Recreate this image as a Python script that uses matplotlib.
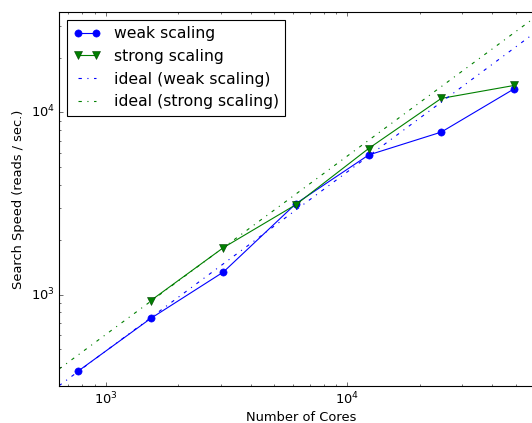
import matplotlib
matplotlib.use('Agg')
import matplotlib.pyplot as plt

# values
cores = [768, 1536, 3072, 6144, 12288, 24576, 49152]
weak_speed = [380, 740, 1330, 3160, 5840, 7800, 13450]
strong_cores = [1536, 3072, 6144, 12288, 24576, 49152]
strong_speed = [927, 1810, 3120, 6340, 11940, 14060]

# ideal scaling lines, endpoints at the axis limits
ideal_cores = [640, 65536]
ideal_weak = [316, 29850]
ideal_strong = [390, 36200]

plt.style.use('classic')
plt.rcParams['font.size'] = 11.7

fig = plt.figure(figsize=(532 / 80, 423 / 80), dpi=80, facecolor='white')
ax = fig.add_axes([59 / 532, 37 / 423, 485 / 532, 374 / 423])

ax.loglog(cores, weak_speed, 'b-o', lw=1, ms=6.5, mec='b', label='weak scaling')
ax.loglog(strong_cores, strong_speed, 'g-v', lw=1, ms=6.5, mec='#004000', label='strong scaling')
ax.loglog(ideal_cores, ideal_weak, 'b', ls=(0, (3, 5, 1, 5)), lw=1, label='ideal (weak scaling)')
ax.loglog(ideal_cores, ideal_strong, 'g', ls=(0, (3, 5, 1, 5)), lw=1, label='ideal (strong scaling)')

ax.set_xlim(640, 65536)
ax.set_ylim(315, 35600)
ax.set_xlabel('Number of Cores', labelpad=3.5)
ax.set_ylabel('Search Speed (reads / sec.)')

ax.legend(loc='upper left', numpoints=2, handlelength=1.8)

fig.savefig('out.png', dpi=80, facecolor='white')
